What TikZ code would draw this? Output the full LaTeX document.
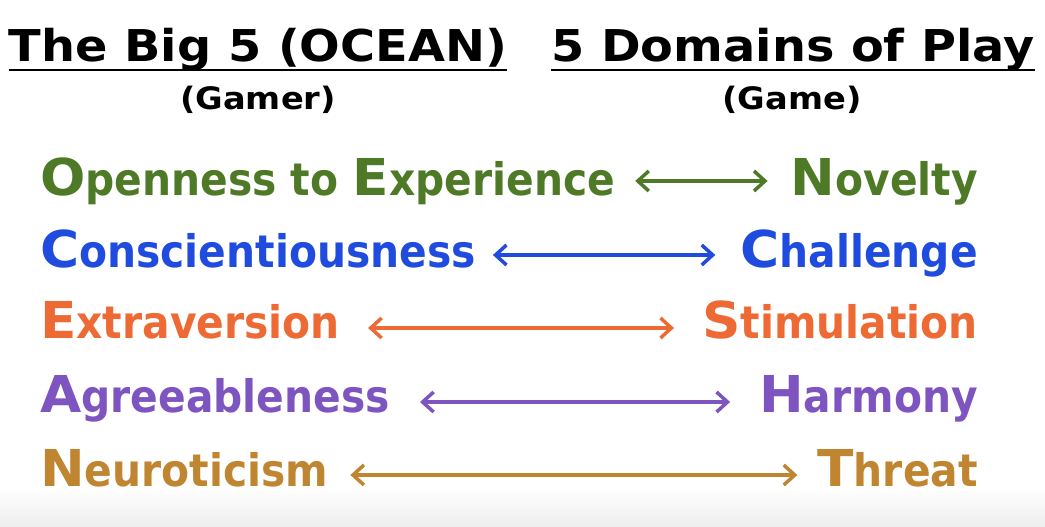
\documentclass[tikz,border=0pt]{standalone}
\usepackage{fontspec}
\setmainfont{DejaVu Sans}[FakeStretch=0.91]
\newfontfamily\headfont[FakeStretch=1.09]{DejaVu Sans}
\newfontfamily\initfont[FakeStretch=1.05]{DejaVu Sans}
\usetikzlibrary{arrows.meta}
\usepackage{xcolor}

\definecolor{ocgreen}{RGB}{78,122,39}
\definecolor{ocblue}{RGB}{31,75,222}
\definecolor{ocorange}{RGB}{238,106,53}
\definecolor{ocpurple}{RGB}{126,85,192}
\definecolor{ocgold}{RGB}{192,133,48}

\newcommand{\firstletter}[1]{{\initfont\fontsize{51}{58}\selectfont #1}}

\tikzset{
  headtext/.style={font=\headfont\bfseries\fontsize{44}{50}\selectfont, inner sep=0pt},
  subtext/.style={font=\headfont\bfseries\fontsize{31}{36}\selectfont, inner sep=0pt},
  trait/.style={font=\bfseries\fontsize{45}{52}\selectfont, inner sep=0pt},
  link/.style={{Straight Barb[length=11bp,width=20bp]}-{Straight Barb[length=11bp,width=20bp]}, line width=3.5bp}
}

\begin{document}
\begin{tikzpicture}[x=1bp, y=-1bp]
        % Page frame and faint grey band at the bottom
        \useasboundingbox (0,0) rectangle (1045,527);
        \shade[top color=white, bottom color=black!7] (0,488) rectangle (1045,527);

        % Column headings
        \node[headtext, anchor=base] (bigfive) at (258,62) {The Big 5 (OCEAN)};
        \node[headtext, anchor=base] (domains) at (793,62) {5 Domains of Play};
        \node[subtext, anchor=base] (gamer) at (258,110) {(Gamer)};
        \node[subtext, anchor=base] (game) at (792,110) {(Game)};

        % Underline the headings
        \draw[line width=2.5bp] ([yshift=-8bp]bigfive.base west) -- ([yshift=-8bp]bigfive.base east);
        \draw[line width=2.5bp] ([yshift=-8bp]domains.base west) -- ([yshift=-8bp]domains.base east);

        % Personality traits (left)
        \node[trait, text=ocgreen, anchor=base west] (open) at (40,196) {\firstletter{O}penness to \firstletter{E}xperience};
        \node[trait, text=ocblue, anchor=base west] (consc) at (40,268) {\firstletter{C}onscientiousness};
        \node[trait, text=ocorange, anchor=base west] (extra) at (40,339) {\firstletter{E}xtraversion};
        \node[trait, text=ocpurple, anchor=base west] (agree) at (40,412) {\firstletter{A}greeableness};
        \node[trait, text=ocgold, anchor=base west] (neuro) at (40,486) {\firstletter{N}euroticism};

        % Domains of play (right)
        \node[trait, text=ocgreen, anchor=base east] (novelty) at (978,196) {\firstletter{N}ovelty};
        \node[trait, text=ocblue, anchor=base east] (challenge) at (978,268) {\firstletter{C}hallenge};
        \node[trait, text=ocorange, anchor=base east] (stimulation) at (978,339) {\firstletter{S}timulation};
        \node[trait, text=ocpurple, anchor=base east] (harmony) at (978,412) {\firstletter{H}armony};
        \node[trait, text=ocgold, anchor=base east] (threat) at (978,486) {\firstletter{T}hreat};

        % Two-way links between trait and domain
        \draw[link, ocgreen, shorten <=20bp, shorten >=23bp] ([yshift=15bp]open.base east) -- ([yshift=15bp]novelty.base west);
        \draw[link, ocblue, shorten <=17bp, shorten >=25bp] ([yshift=13bp]consc.base east) -- ([yshift=13bp]challenge.base west);
        \draw[link, ocorange, shorten <=28bp, shorten >=28bp] ([yshift=11bp]extra.base east) -- ([yshift=11bp]stimulation.base west);
        \draw[link, ocpurple, shorten <=30bp, shorten >=29bp] ([yshift=10bp]agree.base east) -- ([yshift=10bp]harmony.base west);
        \draw[link, ocgold, shorten <=22bp, shorten >=20bp] ([yshift=11bp]neuro.base east) -- ([yshift=11bp]threat.base west);
    \end{tikzpicture}
\end{document}
